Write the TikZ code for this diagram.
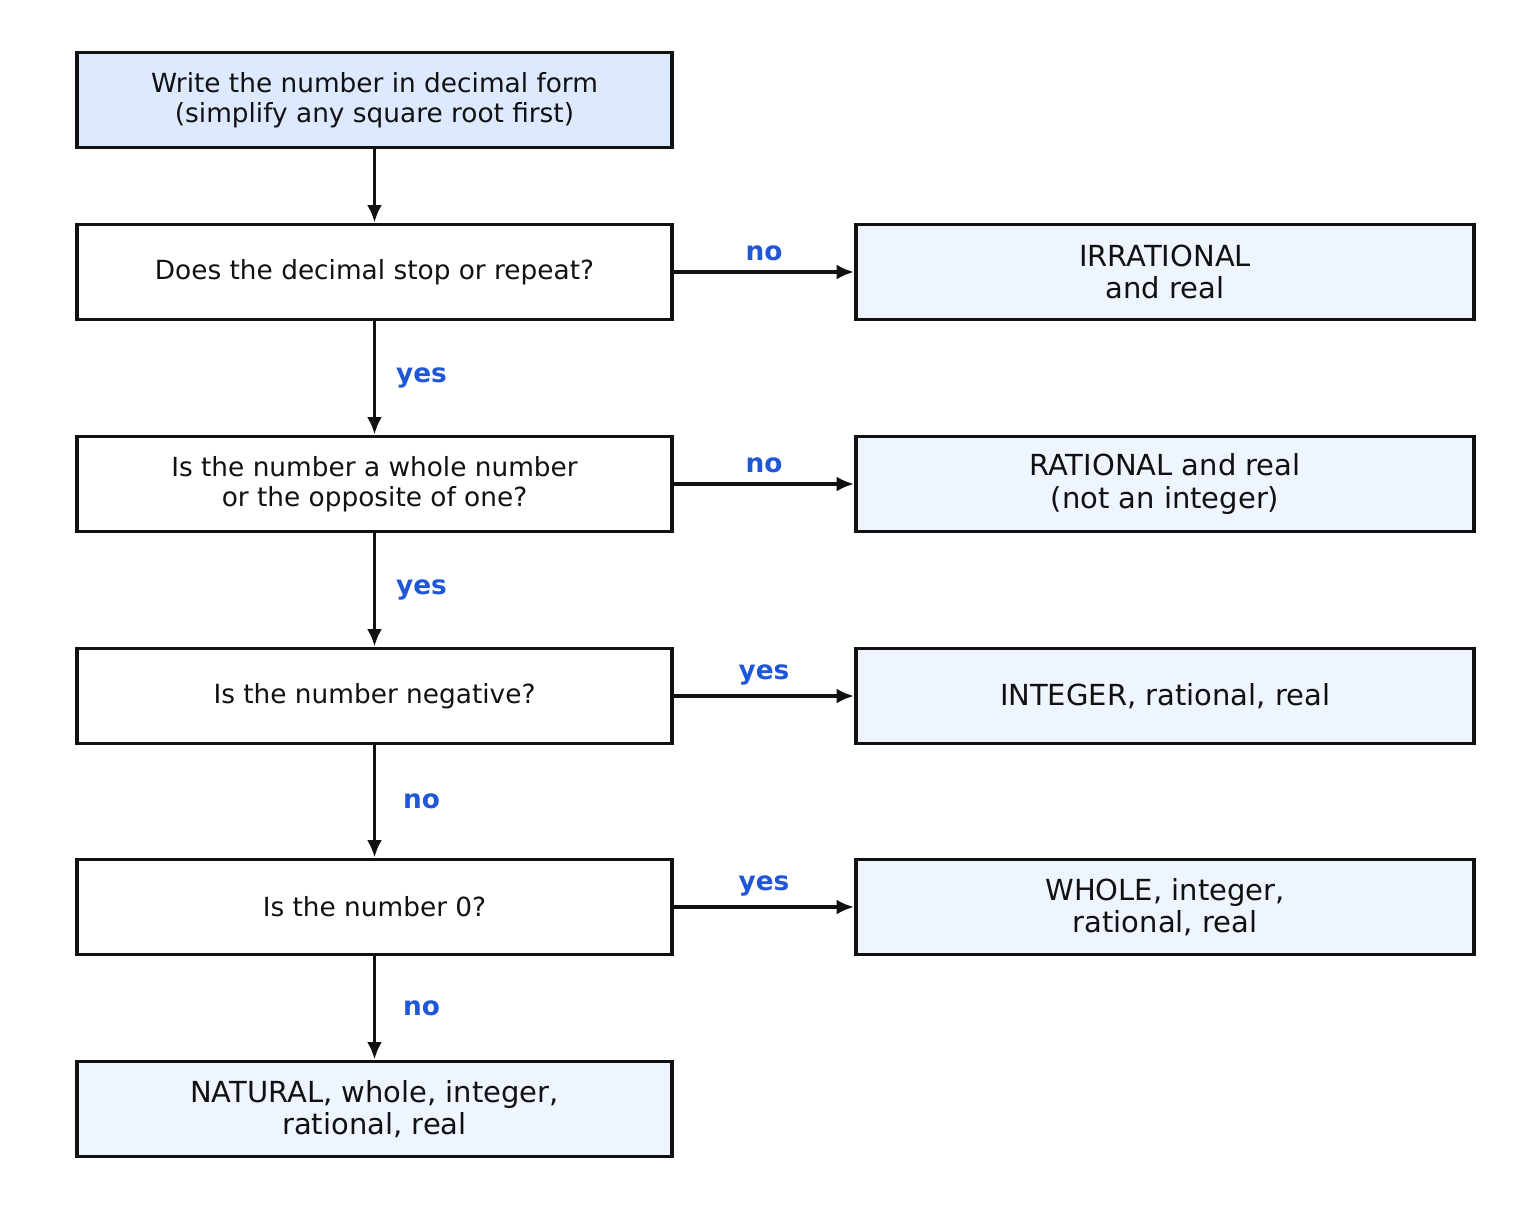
\documentclass[tikz,border=0pt]{standalone}
\usepackage{fontspec}
\setmainfont{DejaVu Sans}
\usetikzlibrary{arrows.meta, positioning}
\definecolor{startfill}{HTML}{DCE9FF}
\definecolor{endfill}{HTML}{EEF5FF}
\definecolor{lblblue}{HTML}{1F57D6}
\definecolor{ink}{HTML}{111111}
\tikzset{
    stepbox/.style={rectangle, draw=ink, line width=2.2pt, minimum width=11.9cm, minimum height=1.9cm, align=center, font=\fontsize{15}{17}\selectfont, text=ink},
    resultbox/.style={stepbox, fill=endfill, minimum width=12.36cm, font=\fontsize{16.5}{18.5}\selectfont},
    arrow/.style={-{Latex[length=3.5mm,width=3mm]}, line width=2pt, ink},
    answer/.style={font=\fontsize{15}{17}\selectfont\bfseries, text=lblblue},
}
\begin{document}
\begin{tikzpicture}[x=0.02cm, y=-0.02cm]
\useasboundingbox (0,0) rectangle (1528,1210);

% Left column - questions
\node[stepbox, fill=startfill] (start) at (374.5,100) {Write the number in decimal form\\(simplify any square root first)};
\node[stepbox] (stops) at (374.5,272) {Does the decimal stop or repeat?};
\node[stepbox] (whole) at (374.5,484) {Is the number a whole number\\or the opposite of one?};
\node[stepbox] (neg) at (374.5,696) {Is the number negative?};
\node[stepbox] (zero) at (374.5,907) {Is the number 0?};
\node[resultbox, minimum width=11.9cm] (natural) at (374.5,1109) {NATURAL, whole, integer,\\rational, real};

% Right column - results
\node[resultbox] (irrational) at (1165,272) {IRRATIONAL\\and real};
\node[resultbox] (rational) at (1165,484) {RATIONAL and real\\(not an integer)};
\node[resultbox] (integer) at (1165,696) {INTEGER, rational, real};
\node[resultbox] (wholenum) at (1165,907) {WHOLE, integer,\\rational, real};

% Arrows
\draw[arrow] (start) -- (stops);
\draw[arrow] (stops) -- node[answer, right=8pt] {yes} (whole);
\draw[arrow] (whole) -- node[answer, right=8pt] {yes} (neg);
\draw[arrow] (neg) -- node[answer, right=12pt] {no} (zero);
\draw[arrow] (zero) -- node[answer, right=12pt] {no} (natural);
\draw[arrow] (stops) -- node[answer, above=2pt] {no} (irrational);
\draw[arrow] (whole) -- node[answer, above=2pt] {no} (rational);
\draw[arrow] (neg) -- node[answer, above=2pt] {yes} (integer);
\draw[arrow] (zero) -- node[answer, above=2pt] {yes} (wholenum);
\end{tikzpicture}
\end{document}
